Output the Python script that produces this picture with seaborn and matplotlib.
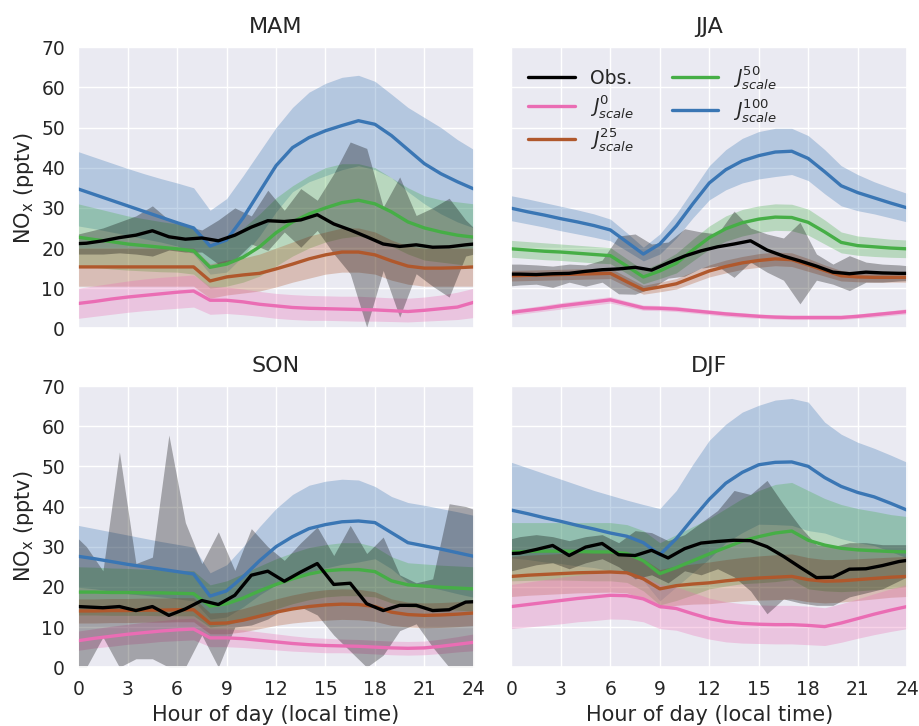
import numpy as np
import pandas as pd
import matplotlib
matplotlib.use("Agg")
import matplotlib.pyplot as plt
import seaborn as sns

# Hours: models are hourly, observations at half-hour centres (plus the ends)
MODEL_HOURS = list(range(25))
OBS_HOURS = [0, 0.5, 1.5, 2.5, 3.5, 4.5, 5.5, 6.5, 7.5, 8.5, 9.5, 10.5, 11.5,
             12.5, 13.5, 14.5, 15.5, 16.5, 17.5, 18.5, 19.5, 20.5, 21.5, 22.5, 23.5, 24]

SEASONS = ["MAM", "JJA", "SON", "DJF"]

# ---------------- MAM ----------------
MAM_OBS = [21.1, 21.2, 21.8, 22.6, 23.2, 24.3, 22.8, 22.2, 22.5, 21.8, 23.2, 25.2, 26.8,
           26.6, 27.0, 28.3, 26.0, 24.5, 22.8, 21.0, 20.4, 20.8, 20.2, 20.3, 20.8, 21.0]
MAM_OBS_HI = [23.5, 24.0, 25.0, 26.5, 28.0, 30.5, 27.0, 25.5, 24.5, 27.0, 30.0, 28.0, 34.4,
              29.4, 34.8, 31.9, 38.5, 46.4, 44.8, 30.2, 37.7, 28.1, 30.0, 32.4, 27.0, 25.0]
MAM_OBS_LO = [18.5, 18.5, 18.5, 18.8, 18.5, 18.0, 19.5, 19.0, 19.0, 16.0, 17.0, 21.0, 19.4,
              24.0, 20.2, 24.4, 18.6, 13.6, 0.3, 14.4, 2.8, 13.6, 10.5, 7.8, 18.0, 18.5]
MAM_J100 = [34.7, 33.3, 31.9, 30.5, 29.1, 27.7, 26.3, 25.0, 20.5, 22.0, 27.5, 34.0, 40.5,
            45.0, 47.5, 49.2, 50.5, 51.7, 50.8, 48.0, 44.5, 41.0, 38.5, 36.5, 34.7]
MAM_J100_HI = [44.0, 42.6, 41.2, 39.8, 38.5, 37.3, 36.2, 35.0, 29.4, 32.3, 38.0, 44.0, 50.0,
               55.0, 58.8, 61.0, 62.5, 63.0, 61.5, 58.3, 55.0, 52.5, 50.0, 47.0, 44.5]
MAM_J100_LO = [25.5, 24.8, 24.0, 23.2, 22.3, 21.5, 20.5, 18.5, 13.5, 14.0, 18.0, 23.0, 29.0,
               34.0, 36.5, 38.0, 39.5, 40.5, 39.5, 37.5, 34.0, 31.0, 28.5, 26.5, 25.0]
MAM_J50 = [22.7, 22.1, 21.6, 21.0, 20.6, 20.2, 19.8, 19.3, 15.2, 16.0, 17.7, 20.3, 23.8,
           26.5, 28.5, 30.0, 31.3, 31.9, 31.0, 29.0, 26.5, 25.0, 24.0, 23.2, 22.7]
MAM_J50_HI = [31.0, 30.0, 29.0, 28.0, 27.3, 26.6, 26.0, 25.5, 21.0, 22.0, 25.0, 28.5, 32.5,
              35.5, 38.0, 40.0, 41.0, 41.0, 40.0, 37.5, 35.0, 33.0, 32.0, 31.5, 31.0]
MAM_J50_LO = [15.5, 15.2, 14.8, 14.5, 14.3, 14.1, 14.0, 13.5, 10.0, 10.5, 11.5, 13.0, 15.5,
              18.0, 20.0, 21.5, 22.5, 23.0, 22.0, 20.5, 18.5, 17.0, 16.5, 16.0, 15.5]
MAM_J25 = [15.3, 15.3, 15.3, 15.3, 15.3, 15.3, 15.3, 15.3, 11.8, 12.8, 13.3, 13.7, 14.8,
           16.0, 17.3, 18.3, 19.0, 19.0, 18.3, 16.8, 15.5, 15.0, 15.0, 15.1, 15.3]
MAM_J25_HI = [20.0, 20.0, 20.0, 20.0, 20.0, 20.0, 20.0, 20.0, 16.0, 17.0, 17.5, 18.5, 20.0,
              21.5, 23.0, 24.0, 25.0, 25.0, 24.0, 22.0, 20.5, 20.0, 20.0, 20.0, 20.0]
MAM_J25_LO = [10.5, 10.5, 10.5, 10.5, 10.5, 10.5, 10.5, 10.5, 7.5, 8.3, 8.8, 9.3, 10.3,
              11.5, 12.5, 13.5, 14.0, 14.0, 13.5, 12.0, 11.0, 10.5, 10.5, 10.5, 10.5]
MAM_J0 = [6.2, 6.7, 7.3, 7.8, 8.2, 8.6, 9.0, 9.3, 7.0, 7.0, 6.6, 6.0, 5.6,
          5.2, 5.0, 4.9, 4.8, 4.7, 4.6, 4.4, 4.2, 4.5, 4.9, 5.3, 6.5]
MAM_J0_HI = [10.0, 10.6, 11.2, 11.8, 12.3, 12.7, 13.0, 13.3, 10.5, 10.3, 9.8, 9.2, 8.7,
             8.4, 8.2, 8.1, 8.0, 8.0, 7.8, 7.6, 7.5, 7.8, 8.3, 9.0, 10.0]
MAM_J0_LO = [2.5, 3.0, 3.5, 4.0, 4.4, 4.7, 5.0, 5.3, 3.5, 3.7, 3.4, 3.0, 2.5,
             2.2, 2.0, 2.0, 1.9, 1.8, 1.8, 1.7, 1.6, 1.8, 2.0, 2.2, 2.7]

# ---------------- JJA ----------------
JJA_OBS = [13.5, 13.5, 13.4, 13.6, 13.7, 14.2, 14.6, 14.8, 15.2, 14.5, 16.3, 18.0, 19.3,
           20.3, 21.0, 21.8, 19.5, 18.0, 16.8, 15.5, 14.0, 13.6, 14.0, 13.8, 13.7, 13.7]
JJA_OBS_HI = [16.0, 16.0, 15.8, 15.5, 16.0, 15.8, 17.0, 23.0, 23.5, 21.0, 21.5, 24.8, 24.0,
              23.5, 29.2, 25.0, 23.5, 22.5, 26.4, 18.5, 16.0, 18.1, 16.5, 16.0, 15.8, 15.6]
JJA_OBS_LO = [10.6, 10.8, 11.0, 10.2, 11.5, 10.5, 11.5, 8.6, 8.5, 10.0, 12.5, 13.0, 15.0,
              15.5, 12.7, 16.5, 14.0, 12.0, 6.1, 12.0, 11.0, 9.4, 11.5, 11.5, 11.8, 11.9]
JJA_J100 = [29.9, 29.0, 28.2, 27.3, 26.5, 25.6, 24.5, 21.5, 18.5, 21.0, 25.5, 31.0, 36.2,
            39.5, 41.7, 43.0, 43.9, 44.1, 42.3, 39.0, 35.5, 33.8, 32.5, 31.2, 30.0]
JJA_J100_HI = [33.0, 32.2, 31.3, 30.4, 29.5, 28.5, 27.2, 23.8, 20.2, 23.5, 28.5, 34.5, 40.5,
               44.5, 47.3, 49.0, 49.8, 49.8, 48.0, 44.5, 40.5, 38.3, 36.5, 35.0, 33.6]
JJA_J100_LO = [26.8, 26.0, 25.2, 24.3, 23.5, 22.7, 21.8, 19.3, 16.8, 18.5, 22.5, 27.5, 32.0,
               34.5, 36.2, 37.2, 37.8, 38.3, 36.8, 33.5, 30.5, 29.3, 28.5, 27.5, 26.5]
JJA_J50 = [19.8, 19.5, 19.2, 19.0, 18.7, 18.4, 18.1, 15.5, 12.8, 14.3, 16.2, 19.5, 22.6,
           24.8, 26.3, 27.2, 27.7, 27.6, 26.4, 24.0, 21.4, 20.6, 20.3, 20.0, 19.8]
JJA_J50_HI = [21.9, 21.6, 21.3, 21.0, 20.7, 20.4, 20.1, 17.3, 14.5, 16.3, 18.7, 22.2, 25.5,
              28.0, 29.6, 30.5, 31.0, 30.9, 29.7, 27.0, 24.0, 23.0, 22.6, 22.2, 22.0]
JJA_J50_LO = [17.7, 17.4, 17.1, 16.9, 16.6, 16.3, 16.1, 13.7, 11.1, 12.4, 13.8, 16.8, 19.7,
              21.7, 23.0, 23.9, 24.4, 24.3, 23.2, 21.0, 18.8, 18.2, 17.9, 17.7, 17.6]
JJA_J25 = [13.1, 13.2, 13.3, 13.4, 13.5, 13.6, 13.7, 11.6, 9.6, 10.3, 11.1, 12.7, 14.3,
           15.4, 16.3, 16.9, 17.3, 17.1, 15.8, 14.4, 13.1, 12.8, 12.7, 12.7, 12.7]
JJA_J25_HI = [14.4, 14.5, 14.6, 14.7, 14.8, 14.9, 15.0, 12.8, 10.7, 11.5, 12.4, 14.1, 15.8,
              17.0, 17.9, 18.6, 19.0, 18.8, 17.4, 15.8, 14.4, 14.0, 13.9, 13.9, 13.9]
JJA_J25_LO = [11.8, 11.9, 12.0, 12.1, 12.2, 12.3, 12.4, 10.4, 8.5, 9.1, 9.8, 11.3, 12.8,
              13.8, 14.7, 15.2, 15.6, 15.4, 14.2, 13.0, 11.8, 11.6, 11.5, 11.5, 11.5]
JJA_J0 = [4.0, 4.5, 5.0, 5.6, 6.1, 6.6, 7.1, 6.1, 5.1, 5.0, 4.8, 4.4, 4.0,
          3.6, 3.3, 3.0, 2.8, 2.7, 2.7, 2.7, 2.7, 3.0, 3.4, 3.8, 4.2]
JJA_J0_HI = [4.7, 5.2, 5.8, 6.4, 6.9, 7.4, 7.9, 6.8, 5.8, 5.7, 5.5, 5.0, 4.6,
             4.2, 3.9, 3.6, 3.4, 3.3, 3.3, 3.3, 3.3, 3.6, 4.0, 4.4, 4.9]
JJA_J0_LO = [3.3, 3.8, 4.3, 4.8, 5.3, 5.8, 6.3, 5.4, 4.5, 4.4, 4.2, 3.8, 3.4,
             3.0, 2.7, 2.5, 2.3, 2.2, 2.2, 2.2, 2.2, 2.5, 2.8, 3.2, 3.6]

# ---------------- SON ----------------
SON_OBS = [15.1, 15.0, 14.8, 15.1, 14.1, 15.1, 12.9, 14.5, 16.6, 15.6, 17.9, 22.9, 23.9,
           21.4, 23.7, 25.8, 20.6, 20.9, 15.8, 14.1, 15.4, 15.4, 14.1, 14.3, 16.2, 16.3]
SON_OBS_HI = [32.0, 30.0, 24.0, 53.6, 25.8, 27.4, 57.8, 36.0, 25.8, 33.7, 24.1, 34.5, 30.0,
              26.6, 31.0, 34.9, 27.8, 35.3, 28.3, 32.4, 23.0, 21.0, 22.0, 40.7, 40.0, 39.3]
SON_OBS_LO = [0.0, 0.0, 7.5, 0.0, 2.1, 2.1, 0.0, 0.0, 8.0, 0.0, 10.0, 10.5, 12.0,
              14.5, 15.0, 13.0, 8.0, 4.0, 0.0, 3.0, 9.1, 10.8, 5.0, 0.0, 0.0, 0.0]
SON_J100 = [27.6, 27.0, 26.3, 25.6, 25.0, 24.4, 23.8, 23.2, 17.7, 19.0, 22.5, 26.5, 30.0,
            32.5, 34.5, 35.5, 36.2, 36.4, 36.0, 33.5, 31.0, 30.2, 29.4, 28.5, 27.6]
SON_J100_HI = [35.3, 34.5, 33.7, 32.9, 32.1, 31.3, 30.6, 29.9, 23.5, 25.5, 30.0, 35.0, 39.5,
               43.0, 45.3, 46.3, 46.8, 46.6, 45.0, 42.5, 41.0, 40.3, 39.5, 38.7, 37.8]
SON_J100_LO = [19.9, 19.5, 18.9, 18.3, 17.9, 17.5, 17.0, 16.5, 12.0, 12.5, 15.0, 18.0, 20.5,
               22.0, 23.7, 24.7, 25.6, 26.2, 27.0, 24.5, 21.0, 20.1, 19.3, 18.3, 17.4]
SON_J50 = [18.7, 18.7, 18.6, 18.6, 18.5, 18.5, 18.4, 18.3, 15.2, 15.8, 17.2, 19.0, 20.6,
           22.0, 23.2, 24.0, 24.3, 24.3, 23.8, 21.5, 20.5, 20.2, 19.9, 19.7, 19.5]
SON_J50_HI = [25.0, 24.9, 24.7, 24.6, 24.4, 24.3, 24.1, 24.0, 20.5, 21.5, 23.3, 25.2, 27.0,
              28.5, 29.8, 30.5, 31.0, 31.0, 30.0, 27.5, 26.0, 25.7, 25.4, 25.2, 25.0]
SON_J50_LO = [13.0, 13.0, 12.9, 12.9, 12.9, 12.8, 12.8, 12.8, 10.0, 10.5, 11.7, 13.0, 14.5,
              15.8, 16.8, 17.5, 17.8, 17.8, 17.5, 16.0, 15.0, 14.7, 14.5, 14.2, 14.0]
SON_J25 = [14.0, 14.0, 14.1, 14.1, 14.2, 14.2, 14.3, 14.3, 10.9, 11.0, 11.7, 12.7, 13.7,
           14.5, 15.1, 15.5, 15.7, 15.6, 15.1, 13.7, 13.1, 12.9, 13.0, 13.2, 13.5]
SON_J25_HI = [17.0, 17.0, 17.1, 17.1, 17.2, 17.2, 17.3, 17.3, 13.5, 13.7, 14.6, 15.8, 17.0,
              18.0, 18.8, 19.3, 19.5, 19.4, 18.8, 17.0, 16.2, 16.0, 16.1, 16.3, 16.6]
SON_J25_LO = [11.0, 11.0, 11.1, 11.1, 11.2, 11.2, 11.3, 11.3, 8.3, 8.3, 8.8, 9.6, 10.4,
              11.0, 11.4, 11.7, 11.9, 11.8, 11.4, 10.4, 10.0, 9.8, 9.9, 10.1, 10.4]
SON_J0 = [6.6, 7.2, 7.7, 8.2, 8.6, 9.0, 9.3, 9.5, 7.3, 7.3, 7.1, 6.7, 6.3,
          5.9, 5.6, 5.4, 5.3, 5.2, 5.0, 4.8, 4.7, 4.8, 5.2, 5.7, 6.2]
SON_J0_HI = [9.0, 9.6, 10.2, 10.7, 11.2, 11.6, 12.0, 12.2, 9.5, 9.5, 9.3, 8.8, 8.3,
             7.8, 7.4, 7.2, 7.0, 6.9, 6.7, 6.5, 6.4, 6.5, 7.0, 7.6, 8.3]
SON_J0_LO = [4.2, 4.8, 5.2, 5.7, 6.0, 6.4, 6.6, 6.8, 5.1, 5.1, 4.9, 4.6, 4.3,
             4.0, 3.8, 3.6, 3.6, 3.5, 3.3, 3.1, 3.0, 3.1, 3.4, 3.8, 4.1]

# ---------------- DJF ----------------
DJF_OBS = [28.3, 28.4, 29.3, 30.3, 27.8, 29.9, 30.8, 28.0, 27.8, 29.1, 27.2, 29.5, 30.9,
           31.3, 31.6, 31.5, 30.0, 27.6, 24.9, 22.3, 22.4, 24.4, 24.5, 25.3, 26.3, 26.6]
DJF_OBS_HI = [32.0, 32.5, 33.0, 32.5, 31.5, 32.5, 33.0, 31.0, 34.0, 33.5, 31.5, 33.0, 36.0,
              39.0, 44.0, 43.0, 46.5, 40.5, 35.0, 30.5, 30.0, 31.0, 31.0, 30.5, 30.5, 30.5]
DJF_OBS_LO = [24.0, 24.5, 25.5, 26.0, 24.5, 26.0, 27.0, 25.0, 22.0, 23.0, 21.0, 24.0, 23.0,
              24.5, 22.5, 19.0, 13.3, 17.0, 16.0, 15.4, 15.4, 17.5, 18.5, 19.5, 21.5, 22.5]
DJF_J100 = [39.1, 38.2, 37.2, 36.3, 35.3, 34.4, 33.4, 32.6, 31.0, 28.0, 32.0, 37.0, 41.8,
            45.8, 48.5, 50.4, 51.0, 51.1, 50.0, 47.2, 45.0, 43.5, 42.4, 40.8, 39.1]
DJF_J100_HI = [51.0, 49.6, 48.2, 46.8, 45.4, 44.0, 42.8, 41.6, 40.5, 39.5, 44.0, 50.5, 56.5,
               60.5, 63.5, 65.2, 66.5, 66.9, 66.0, 61.0, 58.0, 56.0, 54.5, 52.8, 51.0]
DJF_J100_LO = [27.2, 26.8, 26.2, 25.8, 25.2, 24.8, 24.0, 23.6, 21.5, 16.5, 20.0, 23.5, 27.0,
               31.0, 33.5, 35.6, 35.5, 35.3, 34.0, 33.4, 32.0, 31.0, 30.3, 28.8, 27.2]
DJF_J50 = [28.7, 28.8, 28.9, 28.9, 28.8, 28.7, 28.7, 28.3, 26.5, 23.3, 24.8, 26.5, 28.2,
           29.8, 31.4, 32.5, 33.4, 33.9, 31.6, 30.4, 29.6, 29.2, 29.0, 28.8, 28.7]
DJF_J50_HI = [36.0, 36.0, 36.0, 36.0, 36.0, 36.0, 36.0, 35.5, 34.0, 31.0, 33.0, 35.0, 37.0,
              39.5, 42.0, 44.0, 45.5, 46.0, 44.0, 42.0, 40.5, 39.5, 38.8, 38.0, 37.5]
DJF_J50_LO = [21.5, 21.6, 21.7, 21.7, 21.6, 21.5, 21.5, 21.1, 19.0, 15.5, 16.6, 18.0, 19.5,
              20.2, 20.8, 21.0, 21.3, 21.8, 19.5, 19.0, 18.8, 19.0, 19.3, 19.6, 20.0]
DJF_J25 = [22.6, 22.9, 23.1, 23.3, 23.5, 23.6, 23.7, 23.5, 22.0, 19.5, 20.3, 20.7, 21.0,
           21.5, 21.9, 22.2, 22.4, 22.6, 21.8, 21.4, 21.5, 21.8, 22.1, 22.4, 22.6]
DJF_J25_HI = [27.6, 27.9, 28.1, 28.3, 28.5, 28.6, 28.7, 28.5, 27.0, 24.3, 25.2, 25.7, 26.2,
              26.8, 27.3, 27.7, 28.0, 28.2, 27.3, 26.8, 26.8, 27.0, 27.2, 27.4, 27.6]
DJF_J25_LO = [17.6, 17.9, 18.1, 18.3, 18.5, 18.6, 18.7, 18.5, 17.0, 14.7, 15.4, 15.7, 15.8,
              16.2, 16.5, 16.7, 16.8, 17.0, 16.3, 16.0, 16.2, 16.6, 17.0, 17.4, 17.6]
DJF_J0 = [15.1, 15.6, 16.1, 16.6, 17.1, 17.5, 17.9, 17.8, 17.0, 15.1, 14.6, 13.3, 12.1,
          11.3, 10.9, 10.7, 10.6, 10.6, 10.4, 10.1, 11.0, 12.1, 13.2, 14.2, 15.1]
DJF_J0_HI = [20.6, 21.2, 21.8, 22.4, 22.9, 23.4, 23.8, 23.7, 22.7, 20.6, 20.0, 18.6, 17.2,
             16.3, 15.8, 15.5, 15.4, 15.4, 15.2, 14.8, 15.8, 17.0, 18.3, 19.5, 20.6]
DJF_J0_LO = [9.6, 10.0, 10.4, 10.8, 11.3, 11.6, 12.0, 11.9, 11.3, 9.6, 9.2, 8.0, 7.0,
             6.3, 6.0, 5.9, 5.8, 5.8, 5.6, 5.4, 6.2, 7.2, 8.1, 8.9, 9.6]

# series styling
KEYS = ["obs", "j0", "j25", "j50", "j100"]
LABELS = {"obs": "Obs.", "j0": r"$J^{0}_{scale}$", "j25": r"$J^{25}_{scale}$",
          "j50": r"$J^{50}_{scale}$", "j100": r"$J^{100}_{scale}$"}
COLORS = {"obs": "black", "j0": "#ea6db4", "j25": "#b0582c",
          "j50": "#46ae46", "j100": "#3a76b4"}

# tables built from the named lists above
data = {
    "MAM": {"obs": (MAM_OBS, MAM_OBS_LO, MAM_OBS_HI), "j0": (MAM_J0, MAM_J0_LO, MAM_J0_HI),
            "j25": (MAM_J25, MAM_J25_LO, MAM_J25_HI), "j50": (MAM_J50, MAM_J50_LO, MAM_J50_HI),
            "j100": (MAM_J100, MAM_J100_LO, MAM_J100_HI)},
    "JJA": {"obs": (JJA_OBS, JJA_OBS_LO, JJA_OBS_HI), "j0": (JJA_J0, JJA_J0_LO, JJA_J0_HI),
            "j25": (JJA_J25, JJA_J25_LO, JJA_J25_HI), "j50": (JJA_J50, JJA_J50_LO, JJA_J50_HI),
            "j100": (JJA_J100, JJA_J100_LO, JJA_J100_HI)},
    "SON": {"obs": (SON_OBS, SON_OBS_LO, SON_OBS_HI), "j0": (SON_J0, SON_J0_LO, SON_J0_HI),
            "j25": (SON_J25, SON_J25_LO, SON_J25_HI), "j50": (SON_J50, SON_J50_LO, SON_J50_HI),
            "j100": (SON_J100, SON_J100_LO, SON_J100_HI)},
    "DJF": {"obs": (DJF_OBS, DJF_OBS_LO, DJF_OBS_HI), "j0": (DJF_J0, DJF_J0_LO, DJF_J0_HI),
            "j25": (DJF_J25, DJF_J25_LO, DJF_J25_HI), "j50": (DJF_J50, DJF_J50_LO, DJF_J50_HI),
            "j100": (DJF_J100, DJF_J100_LO, DJF_J100_HI)},
}

# Plot setup
sns.set_theme(style="darkgrid")
plt.rcParams["font.family"] = ["DejaVu Sans"]
plt.rcParams["xtick.labelsize"] = 13.5
plt.rcParams["ytick.labelsize"] = 13.5
plt.rcParams["axes.labelsize"] = 15
plt.rcParams["axes.titlesize"] = 16

fig, axes = plt.subplots(2, 2, figsize=(9.2, 7.26), dpi=100, sharex=True, sharey=True)
fig.subplots_adjust(left=0.085, right=0.986, top=0.935, bottom=0.081, wspace=0.095, hspace=0.205)

draw_order = ["j100", "j50", "j25", "j0", "obs"]
for ax, season in zip(axes.flat, SEASONS):
    # shaded spread first
    for key in draw_order:
        mean, lo, hi = data[season][key]
        hours = OBS_HOURS if key == "obs" else MODEL_HOURS
        ax.fill_between(hours, lo, hi, color=COLORS[key], alpha=0.3, linewidth=0)
    # then the mean lines
    for key in draw_order:
        mean, lo, hi = data[season][key]
        hours = OBS_HOURS if key == "obs" else MODEL_HOURS
        sns.lineplot(x=hours, y=mean, ax=ax, color=COLORS[key], linewidth=2.4,
                     label=LABELS[key], sort=False)
    if ax.get_legend() is not None:
        ax.get_legend().remove()
    ax.set_title(season, pad=10)
    ax.set_xlim(0, 24)
    ax.set_ylim(0, 70)
    ax.set_xticks(range(0, 25, 3))
    ax.set_yticks(range(0, 71, 10))
    ax.set_xlabel("")
    ax.set_ylabel("")

for ax in axes[:, 0]:
    ax.set_ylabel(r"NO$_{\mathrm{x}}$ (pptv)")
for ax in axes[1, :]:
    ax.set_xlabel("Hour of day (local time)")

# legend in the JJA panel
handles, labels = axes[0, 1].get_legend_handles_labels()
lookup = dict(zip(labels, handles))
axes[0, 1].legend([lookup[LABELS[k]] for k in KEYS], [LABELS[k] for k in KEYS],
                  loc="upper left", ncol=2, frameon=False, fontsize=13.5,
                  handlelength=2.5, columnspacing=2.0, labelspacing=0.3)

plt.savefig("out.png", dpi=100)
